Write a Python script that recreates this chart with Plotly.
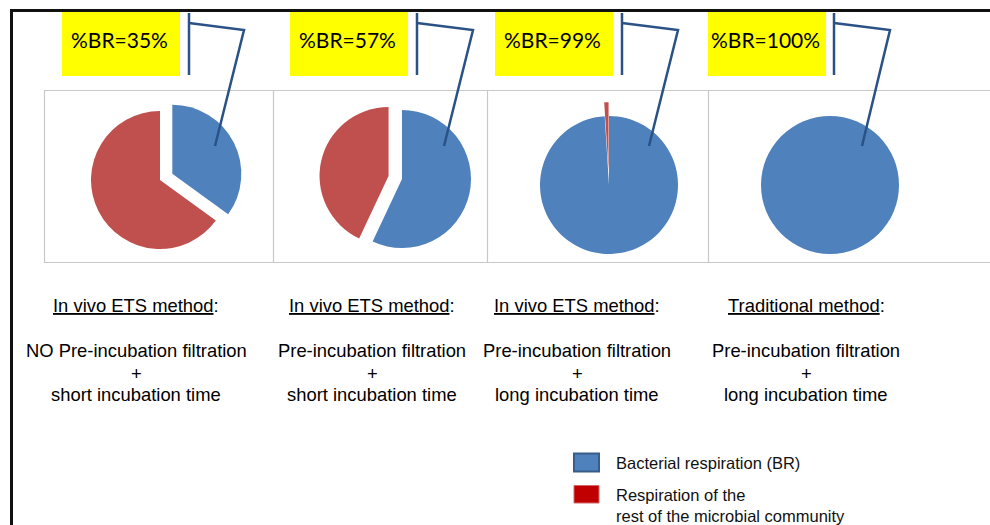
import plotly.graph_objects as go

W, H = 990, 525

# ---- data -------------------------------------------------------------
methods = ["In vivo ETS method", "In vivo ETS method", "In vivo ETS method", "Traditional method"]
filtration = ["NO Pre-incubation filtration", "Pre-incubation filtration",
              "Pre-incubation filtration", "Pre-incubation filtration"]
incubation = ["short incubation time", "short incubation time",
              "long incubation time", "long incubation time"]
br_pct = [35, 57, 99, 100]          # bacterial respiration, %
rest_pct = [65, 43, 1, 0]           # rest of the microbial community, %
series_names = ["Bacterial respiration (BR)",
                "Respiration of the<br>rest of the microbial community"]

# ---- styling ----------------------------------------------------------
BLUE = "#4F81BD"
RED = "#C0504D"
LEGEND_RED = "#C00000"
CALLOUT = "#2A5286"
PANEL_GRAY = "#C8C8C8"
TEXT_FONT = "Liberation Sans, Arial, sans-serif"
LABEL_FONT = "Lato, Carlito, Calibri, sans-serif"
TEXT_SIZE = 18.4

pie_centers = [(160, 180), (402, 179), (609, 185), (830, 185)]
pie_radius = 69
pulls = [[0.2, 0], [0, 0.2], [0, 0.2], [0, 0]]
col_centers = [136, 372, 577, 806]
label_boxes = [(62, 180), (290, 408), (495, 613), (708, 826)]
callouts = [(189, 244, 215), (417, 473, 444), (622, 678, 649), (834, 890, 862)]


def px(x):
    return x / W


def py(y):
    return 1 - y / H


fig = go.Figure()

for i in range(4):
    cx, cy = pie_centers[i]
    half = pie_radius * (1 + max(pulls[i]))
    fig.add_trace(go.Pie(
        values=[br_pct[i], rest_pct[i]],
        labels=series_names,
        marker=dict(colors=[BLUE, RED], line=dict(width=0)),
        pull=pulls[i],
        sort=False,
        direction="clockwise",
        rotation=0,
        textinfo="none",
        hoverinfo="label+percent",
        showlegend=False,
        domain=dict(x=[px(cx - half), px(cx + half)],
                    y=[py(cy + half), py(cy - half)]),
    ))

shapes = []
annotations = []

# outer frame (top and left edges)
shapes.append(dict(type="line", xref="paper", yref="paper",
                   x0=px(10), x1=px(W), y0=py(10.5), y1=py(10.5),
                   line=dict(color="#111111", width=3)))
shapes.append(dict(type="line", xref="paper", yref="paper",
                   x0=px(11.5), x1=px(11.5), y0=py(9), y1=py(H),
                   line=dict(color="#111111", width=3)))

# panel boxes around the pies
shapes.append(dict(type="rect", xref="paper", yref="paper",
                   x0=px(44.5), x1=px(W + 5), y0=py(90.5), y1=py(262.5),
                   line=dict(color=PANEL_GRAY, width=1.2)))
for xd in (273.5, 487.5, 708.5):
    shapes.append(dict(type="line", xref="paper", yref="paper",
                       x0=px(xd), x1=px(xd), y0=py(90.5), y1=py(262.5),
                       line=dict(color=PANEL_GRAY, width=1.2)))

for i in range(4):
    # yellow %BR label
    x0, x1 = label_boxes[i]
    shapes.append(dict(type="rect", xref="paper", yref="paper",
                       x0=px(x0), x1=px(x1), y0=py(12), y1=py(76),
                       fillcolor="#FFFF00", line=dict(width=0), layer="below"))
    annotations.append(dict(xref="paper", yref="paper",
                            x=px((x0 + x1) / 2 - 2), y=py(40),
                            text=f"%BR={br_pct[i]}%", showarrow=False,
                            xanchor="center", yanchor="middle",
                            font=dict(family=LABEL_FONT, size=21, color="#000000")))

    # callout line from the label to the BR slice
    vx, kx, ex = callouts[i]
    shapes.append(dict(type="line", xref="paper", yref="paper",
                       x0=px(vx), x1=px(vx), y0=py(13), y1=py(75),
                       line=dict(color=CALLOUT, width=2.5)))
    shapes.append(dict(type="path", xref="paper", yref="paper",
                       path=f"M {px(vx)},{py(23)} L {px(kx)},{py(30)} L {px(ex)},{py(146)}",
                       line=dict(color=CALLOUT, width=2.5)))

    # method description under each pie
    c = col_centers[i]
    lines = [(305, f"<u>{methods[i]}</u>:"), (350, filtration[i]),
             (373, "+"), (394, incubation[i])]
    for y, txt in lines:
        annotations.append(dict(xref="paper", yref="paper", x=px(c), y=py(y),
                                text=txt, showarrow=False,
                                xanchor="center", yanchor="middle",
                                font=dict(family=TEXT_FONT, size=TEXT_SIZE,
                                          color="#000000")))

# legend
shapes.append(dict(type="rect", xref="paper", yref="paper",
                   x0=px(574), x1=px(599), y0=py(453.5), y1=py(471.5),
                   fillcolor=BLUE, line=dict(color="#385D8A", width=2)))
shapes.append(dict(type="rect", xref="paper", yref="paper",
                   x0=px(574), x1=px(599), y0=py(485.5), y1=py(503),
                   fillcolor=LEGEND_RED, line=dict(color="#D06A6A", width=1)))
annotations.append(dict(xref="paper", yref="paper", x=px(614), y=py(463),
                        text=series_names[0], showarrow=False,
                        xanchor="left", yanchor="middle",
                        font=dict(family=TEXT_FONT, size=16.5, color="#111111")))
annotations.append(dict(xref="paper", yref="paper", x=px(614), y=py(505),
                        text=series_names[1], showarrow=False, align="left",
                        xanchor="left", yanchor="middle",
                        font=dict(family=TEXT_FONT, size=16.5, color="#111111")))

fig.update_layout(
    width=W, height=H,
    margin=dict(l=0, r=0, t=0, b=0),
    paper_bgcolor="white",
    plot_bgcolor="white",
    shapes=shapes,
    annotations=annotations,
    showlegend=False,
)

fig.write_html("out.html")
